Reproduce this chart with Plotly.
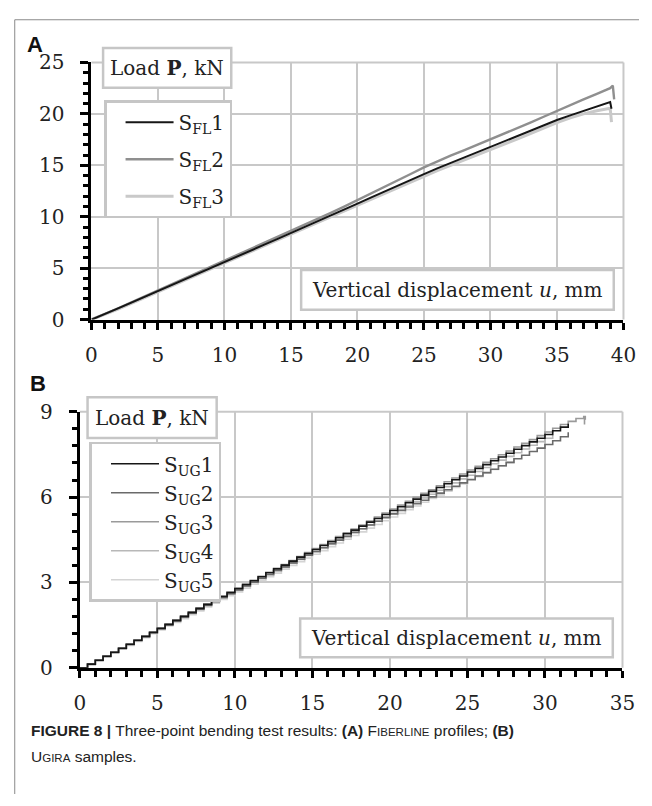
import plotly.graph_objects as go

W, H = 652, 806

# ---------------- Panel A data (Fiberline) ----------------
disp_a = [0, 1, 2, 3, 4, 5, 6, 7, 8, 9,
          10, 11, 12, 13, 14, 15, 16, 17, 18, 19,
          20, 21, 22, 23, 24, 25, 26, 27, 28, 29,
          30, 31, 32, 33, 34, 35, 36, 37, 38, 39]
sfl1 = [0.00, 0.52, 1.08, 1.65, 2.22, 2.80, 3.36, 3.92, 4.48, 5.04,
        5.60, 6.16, 6.72, 7.28, 7.84, 8.40, 8.97, 9.55, 10.12, 10.70,
        11.28, 11.86, 12.45, 13.02, 13.60, 14.15, 14.70, 15.22, 15.75, 16.28,
        16.80, 17.32, 17.85, 18.38, 18.90, 19.40, 19.85, 20.30, 20.75, 21.15]
sfl1_tail_x, sfl1_tail_y = [39.1], [20.5]
sfl2 = [0.00, 0.53, 1.10, 1.67, 2.25, 2.83, 3.40, 3.97, 4.55, 5.12,
        5.70, 6.27, 6.85, 7.42, 8.00, 8.58, 9.17, 9.77, 10.37, 10.98,
        11.60, 12.22, 12.85, 13.48, 14.15, 14.80, 15.38, 15.93, 16.45, 16.98,
        17.50, 18.05, 18.60, 19.15, 19.72, 20.30, 20.85, 21.40, 21.95, 22.50]
sfl2_tail_x, sfl2_tail_y = [39.2, 39.3], [22.75, 21.4]
sfl3 = [0.00, 0.48, 1.02, 1.58, 2.14, 2.70, 3.27, 3.83, 4.40, 4.96,
        5.52, 6.08, 6.64, 7.20, 7.76, 8.32, 8.88, 9.45, 10.02, 10.58,
        11.15, 11.72, 12.28, 12.85, 13.40, 13.95, 14.48, 15.00, 15.50, 16.00,
        16.50, 17.02, 17.55, 18.08, 18.62, 19.15, 19.62, 20.00, 20.30, 20.55]
sfl3_tail_x, sfl3_tail_y = [39.1], [19.2]

# ---------------- Panel B data (Ugira) ----------------
disp_b = [0.0, 0.5, 1.0, 1.5, 2.0, 2.5, 3.0, 3.5, 4.0, 4.5,
          5.0, 5.5, 6.0, 6.5, 7.0, 7.5, 8.0, 8.5, 9.0, 9.5,
          10.0, 10.5, 11.0, 11.5, 12.0, 12.5, 13.0, 13.5, 14.0, 14.5,
          15.0, 15.5, 16.0, 16.5, 17.0, 17.5, 18.0, 18.5, 19.0, 19.5,
          20.0, 20.5, 21.0, 21.5, 22.0, 22.5, 23.0, 23.5, 24.0, 24.5,
          25.0, 25.5, 26.0, 26.5, 27.0, 27.5, 28.0, 28.5, 29.0, 29.5,
          30.0, 30.5, 31.0, 31.5, 32.0, 32.5]
sug1 = [0.00, 0.13, 0.27, 0.41, 0.55, 0.69, 0.83, 0.97, 1.11, 1.25,
        1.39, 1.53, 1.67, 1.81, 1.95, 2.09, 2.23, 2.37, 2.51, 2.65,
        2.79, 2.93, 3.06, 3.20, 3.34, 3.48, 3.61, 3.75, 3.89, 4.02,
        4.16, 4.30, 4.43, 4.57, 4.71, 4.84, 4.98, 5.12, 5.25, 5.39,
        5.53, 5.66, 5.80, 5.93, 6.07, 6.20, 6.34, 6.47, 6.61, 6.74,
        6.88, 7.01, 7.14, 7.28, 7.41, 7.54, 7.68, 7.81, 7.94, 8.07,
        8.20, 8.33, 8.46, 8.58]
sug2 = [0.00, 0.12, 0.26, 0.40, 0.54, 0.68, 0.82, 0.96, 1.09, 1.23,
        1.37, 1.51, 1.65, 1.79, 1.92, 2.06, 2.20, 2.33, 2.47, 2.61,
        2.74, 2.88, 3.01, 3.15, 3.28, 3.42, 3.55, 3.69, 3.82, 3.96,
        4.09, 4.22, 4.36, 4.49, 4.62, 4.76, 4.89, 5.02, 5.15, 5.28,
        5.41, 5.53, 5.65, 5.77, 5.89, 6.01, 6.14, 6.26, 6.38, 6.50,
        6.62, 6.74, 6.86, 6.98, 7.10, 7.22, 7.35, 7.47, 7.60, 7.72,
        7.85, 7.98, 8.12, 8.28]
sug3 = [0.00, 0.14, 0.28, 0.42, 0.56, 0.70, 0.84, 0.98, 1.12, 1.26,
        1.40, 1.54, 1.68, 1.82, 1.96, 2.10, 2.24, 2.38, 2.52, 2.66,
        2.80, 2.94, 3.08, 3.22, 3.36, 3.50, 3.63, 3.77, 3.91, 4.05,
        4.19, 4.33, 4.47, 4.61, 4.75, 4.88, 5.02, 5.16, 5.30, 5.44,
        5.58, 5.72, 5.85, 5.99, 6.13, 6.26, 6.40, 6.54, 6.67, 6.81,
        6.95, 7.08, 7.22, 7.35, 7.49, 7.62, 7.76, 7.89, 8.02, 8.16,
        8.29, 8.42, 8.55, 8.66, 8.76, 8.83]
sug3_tail_x, sug3_tail_y = [32.6, 32.55], [8.75, 8.55]
sug4 = [0.00, 0.13, 0.27, 0.40, 0.54, 0.68, 0.81, 0.95, 1.09, 1.22,
        1.36, 1.50, 1.63, 1.77, 1.91, 2.04, 2.18, 2.32, 2.45, 2.59,
        2.73, 2.86, 3.00, 3.13, 3.27, 3.41, 3.54, 3.68, 3.81, 3.95,
        4.08, 4.22, 4.35, 4.49, 4.62, 4.76, 4.89, 5.03, 5.16, 5.30,
        5.43, 5.57, 5.70, 5.84, 5.97, 6.10, 6.24, 6.37, 6.50, 6.64,
        6.77, 6.90, 7.04, 7.17, 7.30, 7.43, 7.56, 7.69, 7.82, 7.95,
        8.07, 8.18]
sug5 = [0.00, 0.12, 0.25, 0.39, 0.52, 0.66, 0.79, 0.93, 1.06, 1.20,
        1.33, 1.47, 1.60, 1.73, 1.87, 2.00, 2.14, 2.27, 2.40, 2.54,
        2.67, 2.80, 2.94, 3.07, 3.20, 3.33, 3.47, 3.60, 3.73, 3.86,
        3.99, 4.12, 4.26, 4.39, 4.52, 4.65, 4.78, 4.91, 5.04, 5.17,
        5.30, 5.43, 5.56, 5.69, 5.82, 5.95, 6.08, 6.21, 6.34, 6.46,
        6.59, 6.72, 6.84, 6.97, 7.09, 7.21, 7.33]

# ---------------- helpers ----------------
def px(x):
    return x / W

def py(y):
    return 1 - y / H

SERIF = "DejaVu Serif"
SANS = "Liberation Sans"
GRID = "#c8c8c8"
BOXC = "#c6c6c6"

fig = go.Figure()

# Panel A traces (drawn light first so black lies on top)
a_series = [
    ("S<sub>FL</sub>3", sfl3, sfl3_tail_x, sfl3_tail_y, "#c9c9c9", 3.0, 3),
    ("S<sub>FL</sub>2", sfl2, sfl2_tail_x, sfl2_tail_y, "#8f8f8f", 2.4, 2),
    ("S<sub>FL</sub>1", sfl1, sfl1_tail_x, sfl1_tail_y, "#161616", 2.0, 1),
]
for name, ys, tx, ty, col, w, rank in a_series:
    fig.add_trace(go.Scatter(
        x=disp_a[:len(ys)] + tx, y=ys + ty, mode="lines", name=name,
        line=dict(color=col, width=w), xaxis="x", yaxis="y",
        legend="legend", legendrank=rank, legendgroup="a%d" % rank))

b_series = [
    ("S<sub>UG</sub>5", sug5, [], [], "#d4d4d4", 1.6, 5),
    ("S<sub>UG</sub>4", sug4, [], [], "#b8b8b8", 1.6, 4),
    ("S<sub>UG</sub>3", sug3, sug3_tail_x, sug3_tail_y, "#9a9a9a", 1.6, 3),
    ("S<sub>UG</sub>2", sug2, [], [], "#6a6a6a", 1.6, 2),
    ("S<sub>UG</sub>1", sug1, [], [], "#161616", 1.6, 1),
]
for name, ys, tx, ty, col, w, rank in b_series:
    fig.add_trace(go.Scatter(
        x=disp_b[:len(ys)] + tx, y=ys + ty, mode="lines", name=name,
        line=dict(color=col, width=w, shape="hv"), xaxis="x2", yaxis="y2",
        legend="legend2", legendrank=rank, legendgroup="b%d" % rank))

tickfont = dict(family=SERIF, size=20, color="#222222")

def xax(domain, anchor, rng):
    return dict(domain=domain, anchor=anchor, range=rng, dtick=5, tick0=0,
                showline=True, linecolor="black", linewidth=3,
                ticks="outside", ticklen=7, tickwidth=3, tickcolor="black",
                minor=dict(dtick=1, tick0=0, ticks="outside", ticklen=6, tickwidth=3,
                           tickcolor="black", showgrid=False),
                showgrid=True, gridcolor=GRID, gridwidth=2, zeroline=False,
                tickfont=tickfont, ticklabelstandoff=8, fixedrange=True)

def yax(domain, anchor, rng, dt, mdt):
    return dict(domain=domain, anchor=anchor, range=rng, dtick=dt, tick0=0,
                showline=True, linecolor="black", linewidth=3,
                ticks="outside", ticklen=8, tickwidth=3, tickcolor="black",
                minor=dict(dtick=mdt, tick0=0, ticks="outside", ticklen=5, tickwidth=3,
                           tickcolor="black", showgrid=False),
                showgrid=True, gridcolor=GRID, gridwidth=2, zeroline=False,
                tickfont=tickfont, ticklabelstandoff=12, fixedrange=True)

fig.update_layout(
    width=W, height=H, margin=dict(l=0, r=0, t=0, b=0),
    paper_bgcolor="white", plot_bgcolor="white",
    xaxis=xax([px(88), px(636)], "y", [0, 40]),
    yaxis=yax([py(317), py(52)], "x", [0, 25], 5, 1),
    xaxis2=xax([px(76), px(635)], "y2", [0, 35]),
    yaxis2=yax([py(676), py(412)], "x2", [0, 9], 3, 0.6),
    legend=dict(x=px(101), y=py(91), xanchor="left", yanchor="top",
                bgcolor="white", bordercolor=BOXC, borderwidth=2.5,
                font=dict(family=SERIF, size=20, color="#222222"),
                itemwidth=48, tracegroupgap=8, indentation=14),
    legend2=dict(x=px(86), y=py(443), xanchor="left", yanchor="top",
                 bgcolor="white", bordercolor=BOXC, borderwidth=2.5,
                 font=dict(family=SERIF, size=20, color="#222222"),
                 itemwidth=48, tracegroupgap=0, indentation=14),
    showlegend=True,
)

shapes = []
annotations = []

# plot-area top/right borders (light grey, as the outer gridlines)
for xr, yr in (("x", "y"), ("x2", "y2")):
    shapes.append(dict(type="line", xref=xr + " domain", yref=yr + " domain",
                       x0=0, x1=1, y0=1, y1=1, line=dict(color=GRID, width=2), layer="below"))
    shapes.append(dict(type="line", xref=xr + " domain", yref=yr + " domain",
                       x0=1, x1=1, y0=0, y1=1, line=dict(color=GRID, width=2), layer="below"))

# text boxes
boxes = [
    (100, 37, 232, 78, "Load <b>P</b>, kN"),
    (304, 266, 626, 307, "Vertical displacement <i>u</i>, mm"),
    (84, 397, 217, 439, "Load <b>P</b>, kN"),
    (303, 625, 625, 665, "Vertical displacement <i>u</i>, mm"),
]
for x0, y0, x1, y1, txt in boxes:
    shapes.append(dict(type="rect", xref="paper", yref="paper",
                       x0=px(x0), x1=px(x1), y0=py(y1), y1=py(y0),
                       fillcolor="white", line=dict(color=BOXC, width=2.5),
                       layer="above"))
    annotations.append(dict(xref="paper", yref="paper", x=px((x0 + x1) / 2),
                            y=py((y0 + y1) / 2), xanchor="center", yanchor="middle",
                            text=txt, showarrow=False,
                            font=dict(family=SERIF, size=20, color="#222222")))

# figure frame (left and top rules)
shapes.append(dict(type="line", xref="paper", yref="paper", x0=px(9), x1=px(9),
                   y0=0, y1=py(8), line=dict(color="#8a8a8a", width=1)))
shapes.append(dict(type="line", xref="paper", yref="paper", x0=px(9), x1=1,
                   y0=py(8), y1=py(8), line=dict(color="#8a8a8a", width=1)))

# panel letters
annotations.append(dict(xref="paper", yref="paper", x=px(20), y=py(34),
                        xanchor="left", yanchor="middle", text="<b>A</b>", showarrow=False,
                        font=dict(family=SANS, size=22, color="#111111")))
annotations.append(dict(xref="paper", yref="paper", x=px(23), y=py(383),
                        xanchor="left", yanchor="middle", text="<b>B</b>", showarrow=False,
                        font=dict(family=SANS, size=22, color="#111111")))

# caption
sc = "<span style='font-size:11.5px'>"
annotations.append(dict(
    xref="paper", yref="paper", x=px(24), y=py(741), xanchor="left", yanchor="middle",
    showarrow=False, align="left",
    text="<b>FIGURE 8 |</b> Three-point bending test results: <b>(A)</b> F" + sc +
         "IBERLINE</span> profiles; <b>(B)</b>",
    font=dict(family=SANS, size=15.5, color="#222222")))
annotations.append(dict(
    xref="paper", yref="paper", x=px(24), y=py(767), xanchor="left", yanchor="middle",
    showarrow=False, align="left",
    text="U" + sc + "GIRA</span> samples.",
    font=dict(family=SANS, size=15.5, color="#222222")))

fig.update_layout(shapes=shapes, annotations=annotations)

fig.write_html("out.html", config={"displayModeBar": False},
               post_script="document.body.style.margin='0';document.body.style.overflow='hidden';")
